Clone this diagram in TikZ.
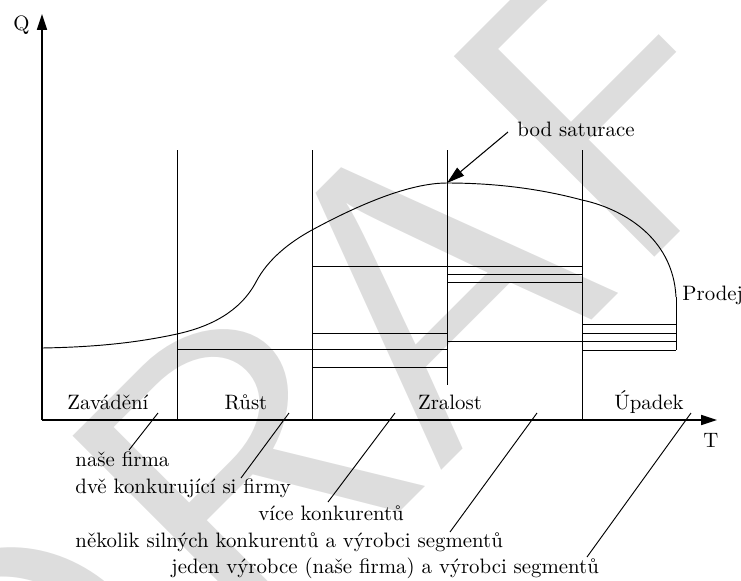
\documentclass[tikz,border=0pt]{standalone}
\usepackage{fontspec}
\newfontfamily\wmfont{lmsans10-regular.otf}
\usetikzlibrary{arrows.meta}
\definecolor{wmgray}{gray}{0.865}
\tikzset{
  ln/.style={line width=0.45pt},
  axis/.style={line width=0.8pt, -{Triangle[length=7.6pt,width=4.8pt]}},
  ptr/.style={line width=0.5pt, -{Triangle[length=8.5pt,width=5pt]}},
  lbl/.style={inner sep=0pt, font=\fontsize{10pt}{12pt}\selectfont},
  wmark/.style={inner sep=0pt, text=wmgray, rotate=45, anchor=base west,
    font=\fontsize{197pt}{197pt}\selectfont\wmfont},
}
\begin{document}
\begin{tikzpicture}[x=0.48pt, y=-0.48pt]
\useasboundingbox (0,0) rectangle (741,580);
% watermark "DRAFT", letter by letter along a 45 degree baseline
\begin{scope}
  \clip (0,0) rectangle (741,580);
  \node[wmark] (wmD) at (25,887) {D};
  \node[wmark] (wmR) at (246.3,665.7) {R};
  \node[wmark] (wmA) at (433.7,478.3) {A};
  \node[wmark] (wmF) at (627.4,284.6) {F};
  \node[wmark] (wmT) at (792.2,119.8) {T};
\end{scope}
% key coordinates
\coordinate (O) at (42,420);
\coordinate (Ytop) at (42,14);
\coordinate (Xend) at (717,420);
\coordinate (peak) at (447,183);
% axes
\draw[axis] (O) -- (Ytop);
\draw[axis] (O) -- (Xend);
\node[lbl, anchor=base west] (Q) at (13,30) {Q};
\node[lbl, anchor=base] (T) at (711,447) {T};
% vertical phase lines
\foreach \x/\n in {177/a,312/b,582/d} {
  \coordinate (v\n t) at (\x,150);
  \coordinate (v\n b) at (\x,420);
  \draw[ln] (v\n t) -- (v\n b);
}
\coordinate (vct) at (447,150);
\coordinate (vcb) at (447,385);
\draw[ln] (vct) -- (vcb);
% horizontal lines
\draw[ln] (177,349) -- (447,349);
\draw[ln] (312,266) -- (582,266);
\draw[ln] (312,333) -- (447,333);
\draw[ln] (312,367) -- (447,367);
\draw[ln] (447,274) -- (582,274);
\draw[ln] (447,282) -- (582,282);
\draw[ln] (447,341) -- (676,341);
\draw[ln] (582,324) -- (676,324);
\draw[ln] (582,333) -- (676,333);
\draw[ln] (582,350) -- (676,350);
\coordinate (cend) at (676,297);
\draw[ln] (cend) -- (676,350);
% sales curve
\draw[ln] (42,348) .. controls (100,347) and (140,342) .. (177,334)
  .. controls (210,326.7) and (240,312) .. (256,282)
  .. controls (268,259) and (290,242) .. (312,230)
  .. controls (360,204) and (410,183) .. (peak)
  .. controls (500,183) and (545,190) .. (582,200)
  .. controls (620,208) and (673,236) .. (cend);
% saturation point
\node[lbl, anchor=base west] (bod) at (517,136) {bod saturace};
\coordinate (bodstart) at (508,132);
\draw[ptr] (bodstart) -- (peak);
\node[lbl, anchor=base west] (prodej) at (682,300) {Prodej};
% phase labels
\node[lbl, anchor=base] (zav) at (108,409) {Zavádění};
\node[lbl, anchor=base] (rust) at (246,409) {Růst};
\node[lbl, anchor=base] (zral) at (450,409) {Zralost};
\node[lbl, anchor=base] (upad) at (649,409) {Úpadek};
% bottom labels
\node[lbl, anchor=base west] (l1) at (75,466) {naše firma};
\node[lbl, anchor=base west] (l2) at (75,493) {dvě konkurující si firmy};
\node[lbl, anchor=base west] (l3) at (258,520) {více konkurentů};
\node[lbl, anchor=base west] (l4) at (75,547) {několik silných konkurentů a výrobci segmentů};
\node[lbl, anchor=base west] (l5) at (171,573) {jeden výrobce (naše firma) a výrobci segmentů};
% pointer lines
\coordinate (p1a) at (158,413); \coordinate (p1b) at (129,450);
\coordinate (p2a) at (289,413); \coordinate (p2b) at (241,478);
\coordinate (p3a) at (395,413); \coordinate (p3b) at (328,502);
\coordinate (p4a) at (537,413); \coordinate (p4b) at (450,532);
\coordinate (p5a) at (691,413); \coordinate (p5b) at (587,557);
\foreach \i in {1,...,5} \draw[line width=0.45pt] (p\i a) -- (p\i b);
\end{tikzpicture}
\end{document}
